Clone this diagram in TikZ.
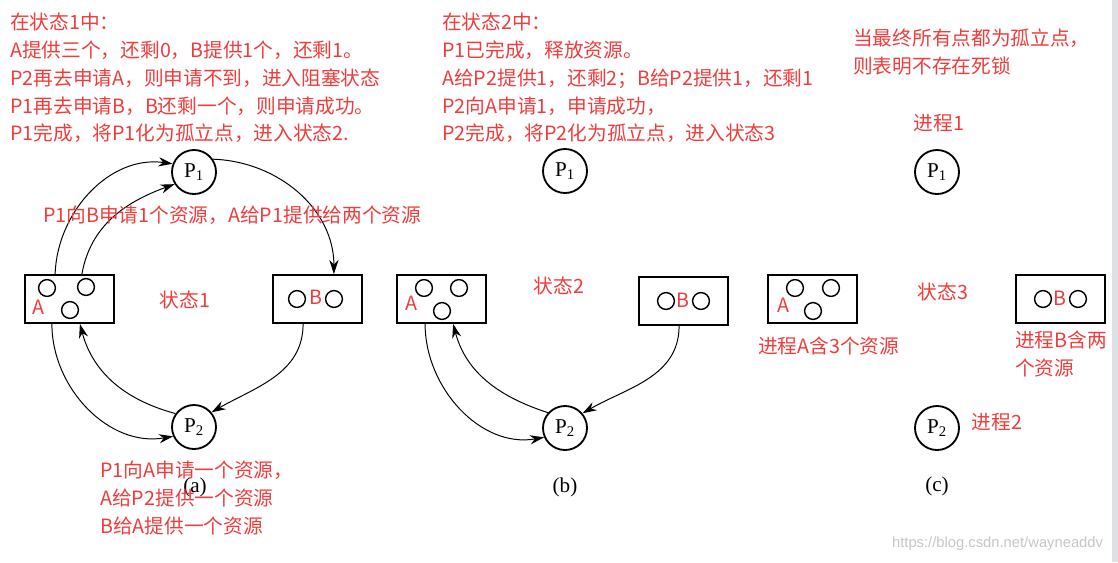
\documentclass[tikz,border=0pt]{standalone}
\usepackage{fontspec}
\setmainfont{Liberation Serif}
\setsansfont{Liberation Sans}
\newfontfamily\cjk{Noto Sans CJK SC}
\usetikzlibrary{arrows.meta}
\definecolor{notered}{HTML}{F03C3C}
\definecolor{stripgray}{HTML}{DEE0E4}

\begin{document}
\begin{tikzpicture}[x=0.025cm, y=-0.025cm,
    proc/.style={circle, draw, line width=1.3pt, minimum size=1.1cm, inner sep=0pt,
                 font=\fontsize{15}{16}\selectfont},
    res/.style={rectangle, draw, line width=1.3pt, minimum width=2.225cm, minimum height=1.2cm},
    unit/.style={circle, draw, line width=1pt, minimum size=0.42cm, inner sep=0pt},
    note/.style={text=notered, font=\cjk\fontsize{14}{19.7}\selectfont, align=left, inner sep=0pt},
    tag/.style={font=\fontsize{15}{16}\selectfont},
    arr/.style={-{Stealth[length=10pt, width=6.5pt]}, line width=0.7pt}
  ]
  \useasboundingbox (0,0) rectangle (1118,562);
  \fill[stripgray] (1112,0) rectangle (1118,562);

  % processes
  \node[proc] (P1a) at (194,172) {P\textsubscript{1}};
  \node[proc] (P2a) at (194,427) {P\textsubscript{2}};
  \node[proc] (P1b) at (565,171) {P\textsubscript{1}};
  \node[proc] (P2b) at (565,428) {P\textsubscript{2}};
  \node[proc] (P1c) at (937,172) {P\textsubscript{1}};
  \node[proc] (P2c) at (937,428) {P\textsubscript{2}};

  % resources
  \node[res] (Aa) at (69.5,299) {};
  \node[res] (Ba) at (317.5,299) {};
  \node[res] (Ab) at (441.5,299) {};
  \node[res] (Bb) at (683.5,301) {};
  \node[res] (Ac) at (812.5,299) {};
  \node[res] (Bc) at (1060.5,299) {};
  \foreach \ux/\uy in {47/288, 86/287, 70/310, 424/288, 459/288, 442/311,
                       795/288, 831/288, 813/311,
                       297/299, 334/299, 666/301, 701/301, 1043/299, 1078/299}
    \node[unit] at (\ux,\uy) {};
  \foreach \lx/\ly in {38/307, 411/303, 783/305}
    \node[note] at (\lx,\ly) {A};
  \foreach \lx/\ly in {316/297, 683/300, 1060/298}
    \node[note] at (\lx,\ly) {B};

  % state 1
  \draw[arr] ([xshift=-0.36cm]Aa.north) to[out=88, in=172] (P1a.159);
  \draw[arr] ([xshift=0.31cm]Aa.north) to[out=80, in=200] (P1a.212);
  \draw[arr] (P1a.34) to[out=-2, in=90] ([xshift=0.41cm]Ba.north);
  \draw[arr] ([xshift=-0.36cm]Ba.south) to[out=-90, in=30] (P2a.40);
  \draw[arr] ([xshift=-0.44cm]Aa.south) to[out=-90, in=190] (P2a.204);
  \draw[arr] (P2a.144) to[out=165, in=-75] ([xshift=0.26cm]Aa.south);

  % state 2
  \draw[arr] ([xshift=-0.41cm]Ab.south) to[out=-90, in=190] (P2b.204);
  \draw[arr] (P2b.138) to[out=162, in=-75] ([xshift=0.29cm]Ab.south);
  \draw[arr] ([xshift=-0.11cm]Bb.south) to[out=-90, in=30] (P2b.40);

  \node[tag] (capa) at (195,487) {(a)};
  \node[tag] (capb) at (565,487) {(b)};
  \node[tag] (capc) at (937,486) {(c)};

  % notes
  \node[note, anchor=north west] (n1) at (10,13) {在状态1中：\\A提供三个，还剩0，B提供1个，还剩1。\\P2再去申请A，则申请不到，进入阻塞状态\\P1再去申请B，B还剩一个，则申请成功。\\P1完成，将P1化为孤立点，进入状态2.};
  \node[note, anchor=west] (n2) at (43,215) {P1向B申请1个资源，A给P1提供给两个资源};
  \node[note] (s1) at (185,300) {状态1};
  \node[note, anchor=north west] (n3) at (100,461) {P1向A申请一个资源，\\A给P2提供一个资源\\B给A提供一个资源};
  \node[note, anchor=north west] (n4) at (442,13) {在状态2中：\\P1已完成，释放资源。\\A给P2提供1，还剩2；B给P2提供1，还剩1\\P2向A申请1，申请成功，\\P2完成，将P2化为孤立点，进入状态3};
  \node[note] (s2) at (559,286) {状态2};
  \node[note, anchor=north west] (n5) at (853,29) {当最终所有点都为孤立点，\\则表明不存在死锁};
  \node[note] (q1) at (939,123) {进程1};
  \node[note] (s3) at (943,292) {状态3};
  \node[note, anchor=west] (qa) at (758,346) {进程A含3个资源};
  \node[note, anchor=north west] (qb) at (1015,331) {进程B含两\\个资源};
  \node[note] (q2) at (997,422) {进程2};

  \node[text=gray!45, font=\sffamily\fontsize{10.5}{12}\selectfont, anchor=east] (wm) at (1108,544) {https://blog.csdn.net/wayneaddv};
\end{tikzpicture}
\end{document}
